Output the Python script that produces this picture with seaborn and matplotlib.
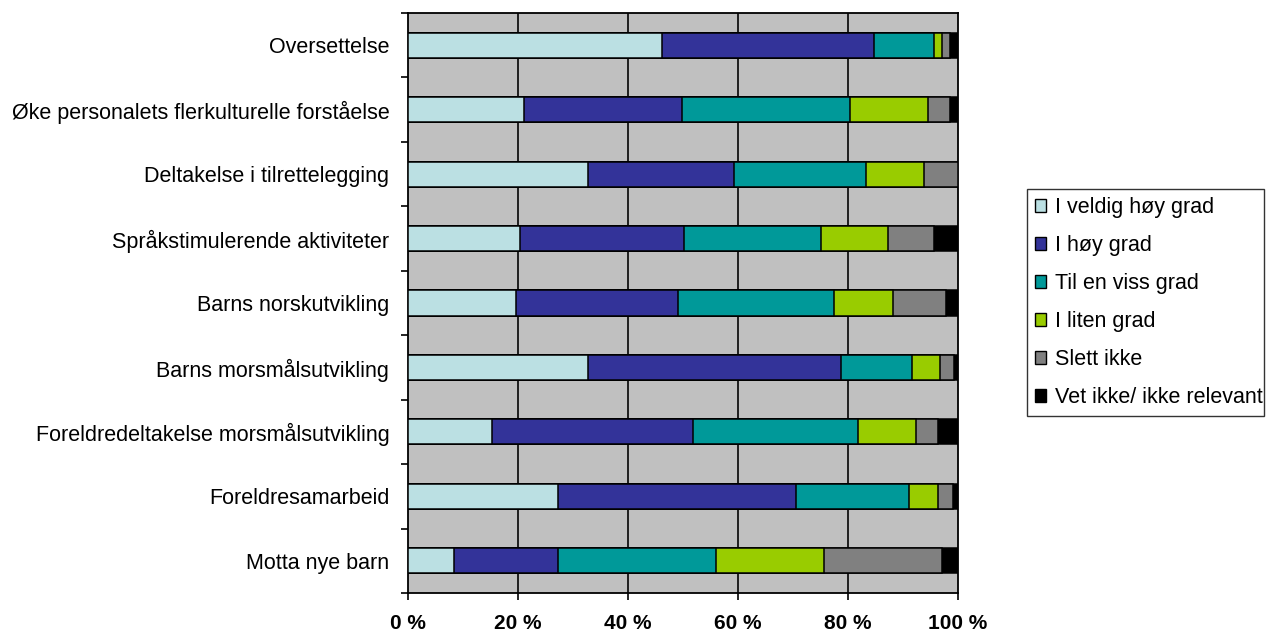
import numpy as np
import pandas as pd
import matplotlib
matplotlib.use("Agg")
import matplotlib.pyplot as plt
from matplotlib.patches import Patch
import seaborn as sns

sns.set_theme(style="white")
plt.rcParams["font.family"] = ["Liberation Sans", "DejaVu Sans"]
plt.rcParams["text.color"] = "black"
plt.rcParams["xtick.color"] = "black"
plt.rcParams["ytick.color"] = "black"
plt.rcParams["axes.labelcolor"] = "black"

categories = [
    "Oversettelse",
    "Øke personalets flerkulturelle forståelse",
    "Deltakelse i tilrettelegging",
    "Språkstimulerende aktiviteter",
    "Barns norskutvikling",
    "Barns morsmålsutvikling",
    "Foreldredeltakelse morsmålsutvikling",
    "Foreldresamarbeid",
    "Motta nye barn",
]

series_names = [
    "I veldig høy grad",
    "I høy grad",
    "Til en viss grad",
    "I liten grad",
    "Slett ikke",
    "Vet ikke/ ikke relevant",
]

veldig_hoy = [46.1, 21.0, 32.7, 20.4, 19.6, 32.7, 15.3, 27.2, 8.3]
hoy = [38.7, 28.8, 26.5, 29.7, 29.5, 46.0, 36.5, 43.4, 18.9]
viss = [10.8, 30.6, 24.1, 24.9, 28.4, 13.0, 30.0, 20.5, 28.8]
liten = [1.4, 14.2, 10.6, 12.3, 10.6, 5.1, 10.6, 5.3, 19.7]
slett_ikke = [1.5, 3.9, 6.1, 8.3, 9.7, 2.4, 4.0, 2.7, 21.3]
vet_ikke = [1.5, 1.5, 0.0, 4.4, 2.2, 0.8, 3.6, 0.9, 3.0]

colors = ["#BBE0E3", "#333399", "#009999", "#99CC00", "#808080", "#000000"]

x_ticks = [0, 20, 40, 60, 80, 100]
x_tick_labels = ["0 %", "20 %", "40 %", "60 %", "80 %", "100 %"]

series_values = [veldig_hoy, hoy, viss, liten, slett_ikke, vet_ikke]
df = pd.DataFrame({name: vals for name, vals in zip(series_names, series_values)},
                  index=categories)
cum = df.cumsum(axis=1)

fig = plt.figure(figsize=(12.66, 6.32), dpi=100)
ax = fig.add_axes([408 / 1266, 1 - 593 / 632, 550 / 1266, 580 / 632])
ax.set_facecolor("#C0C0C0")

# Stacked bars: draw cumulative totals from the outermost series inward
for name, color in reversed(list(zip(series_names, colors))):
    plot_df = pd.DataFrame({"cat": categories, "val": cum[name].values})
    sns.barplot(data=plot_df, x="val", y="cat", orient="h", color=color,
                width=0.39, edgecolor="black", linewidth=1.1,
                saturation=1, ax=ax, zorder=3)

ax.set_xlim(0, 100)
ax.set_ylim(8.5, -0.5)
ax.set_xlabel("")
ax.set_ylabel("")

ax.set_xticks(x_ticks)
ax.set_xticklabels(x_tick_labels, fontsize=15, fontweight="bold", color="black")
ax.tick_params(axis="x", direction="out", length=5, width=1.2, color="black",
               pad=10, bottom=True)

ax.set_yticks(range(len(categories)))
ax.set_yticklabels(categories, fontsize=15.5, color="black")
ax.tick_params(axis="y", which="major", length=0, pad=13.5)
ax.set_yticks(np.arange(-0.5, len(categories), 1), minor=True)
ax.tick_params(axis="y", which="minor", direction="out", length=5, width=1.2,
               color="black", left=True)

for xv in x_ticks[1:-1]:
    ax.axvline(xv, color="#111111", lw=1.3, zorder=1)

for sp in ax.spines.values():
    sp.set_visible(True)
    sp.set_color("black")
    sp.set_linewidth(1.3)

handles = [Patch(facecolor=c, edgecolor="black", linewidth=1.0) for c in colors]
leg = fig.legend(handles, series_names, loc="upper left",
                 bbox_to_anchor=(1027 / 1266, 1 - 189 / 632, 237 / 1266, 0),
                 mode="expand", borderaxespad=0, frameon=True, fancybox=False,
                 fontsize=15.5, handlelength=0.5, handleheight=0.5,
                 handletextpad=0.4, labelspacing=0.79, borderpad=0.38,
                 labelcolor="black")
leg.get_frame().set_edgecolor("black")
leg.get_frame().set_linewidth(1.0)

fig.savefig("out.png", dpi=100)
